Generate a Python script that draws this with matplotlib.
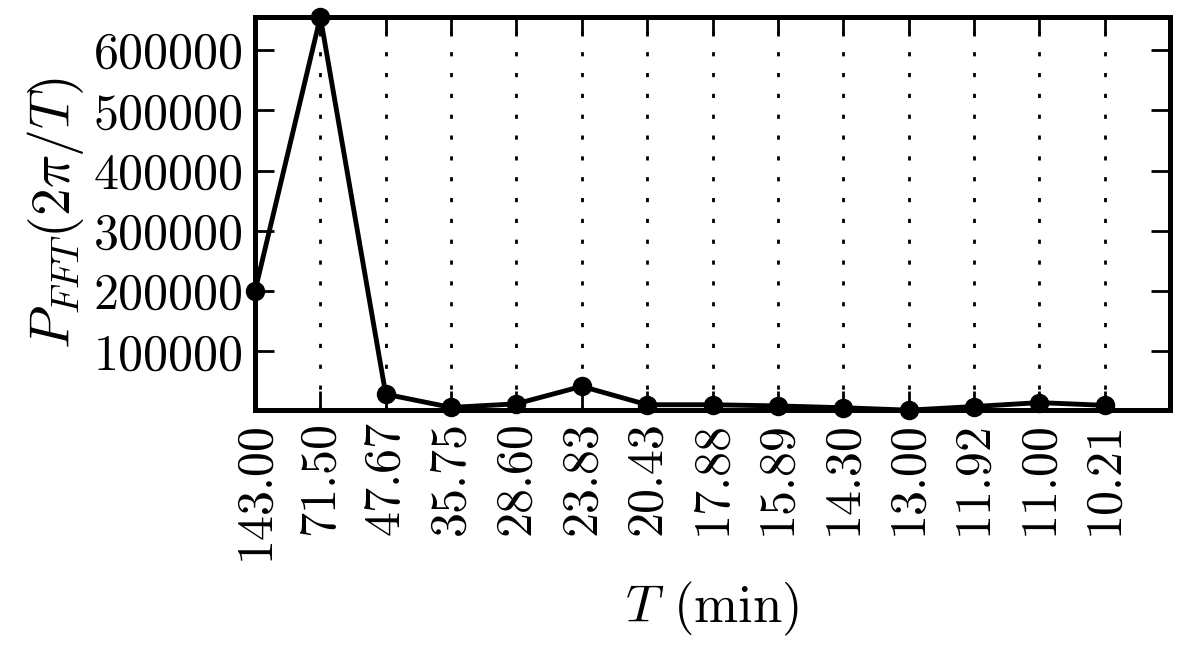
import matplotlib
matplotlib.use("Agg")
import matplotlib.pyplot as plt

periods = ["143.00", "71.50", "47.67", "35.75", "28.60", "23.83", "20.43",
           "17.88", "15.89", "14.30", "13.00", "11.92", "11.00", "10.21"]
power = [200000, 655000, 29000, 7000, 13000, 42000, 11500,
         11500, 9500, 6500, 2500, 8500, 15000, 10500]

plt.rcParams['font.family'] = 'serif'
plt.rcParams['font.serif'] = ['cmr10', 'DejaVu Serif']
plt.rcParams['mathtext.fontset'] = 'cm'
plt.rcParams['axes.unicode_minus'] = False

fig = plt.figure(figsize=(12, 6.5), dpi=100)
ax = fig.add_axes([0.2125, 0.369, 0.7625, 0.605])
x = list(range(len(power)))
ax.plot(x, power, color='black', lw=3.5, marker='o', ms=13, clip_on=False, zorder=3)
ax.set_xlim(0, 14)
ax.set_ylim(min(power), max(power))
ax.set_xticks(x)
ax.set_xticklabels(periods, rotation=90, fontsize=36)
ax.set_yticks([100000, 200000, 300000, 400000, 500000, 600000])
ax.set_yticklabels(['100000', '200000', '300000', '400000', '500000', '600000'], fontsize=36)
ax.xaxis.grid(True, linestyle=(0, (1.5, 6)), color='black', lw=2)
ax.tick_params(direction='in', length=14, width=2, top=True, right=True, pad=8)
for s in ax.spines.values():
    s.set_linewidth(3.6)
ax.set_xlabel(r'$T$ (min)', fontsize=38, labelpad=14)
ax.set_ylabel(r'$P_{FFT}(2\pi/T)$', fontsize=40, labelpad=6)
fig.savefig('out.png', dpi=100)
